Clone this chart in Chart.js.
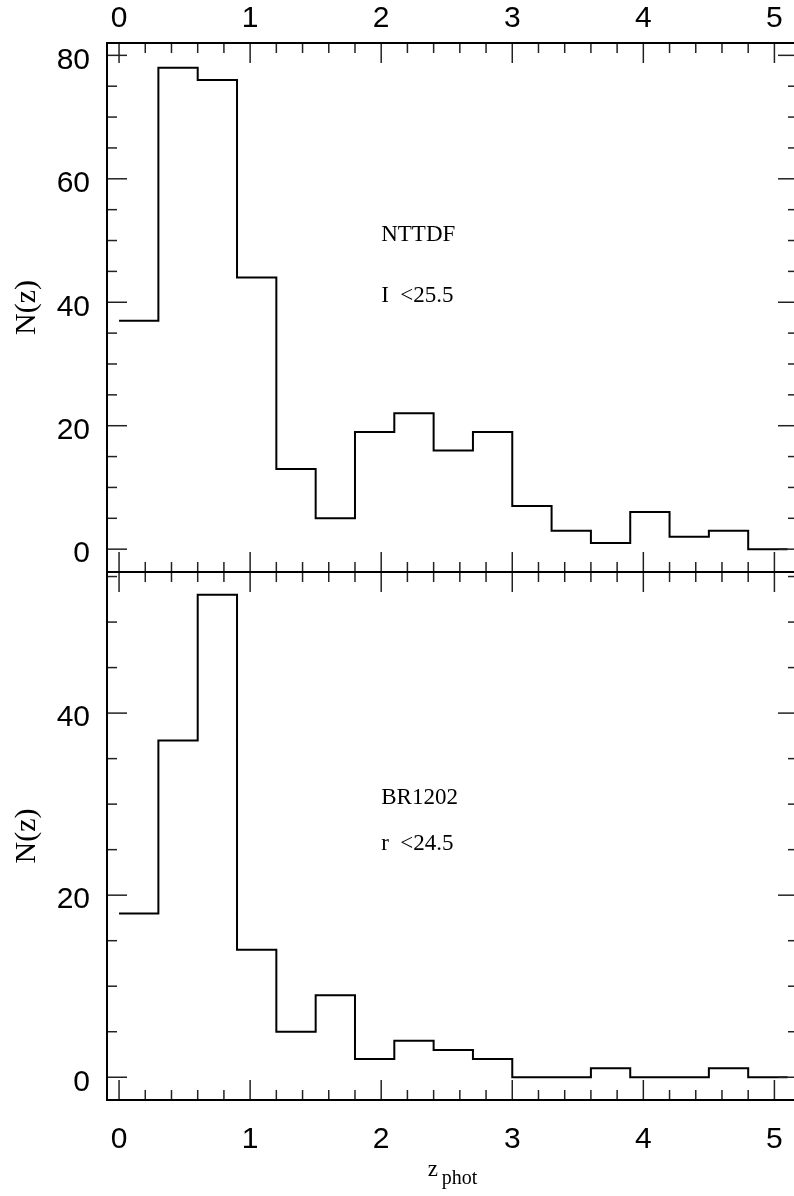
<!DOCTYPE html>
<html><head><meta charset="utf-8">
<script src="https://cdn.jsdelivr.net/npm/chart.js@4.4.1/dist/chart.umd.min.js"></script>
<style>
html,body{margin:0;padding:0;background:#fff;overflow:hidden;}
#wrap{position:relative;width:794px;height:1196px;overflow:hidden;background:#fff;}
canvas{position:absolute;left:0;top:0;}
</style></head><body>
<div id="wrap"><canvas id="cTop" width="812" height="1196"></canvas><canvas id="cBot" width="812" height="1196"></canvas></div>
<script>
// ---- data ----
const binEdges = [0, 0.3, 0.6, 0.9, 1.2, 1.5, 1.8, 2.1, 2.4, 2.7, 3.0, 3.3, 3.6, 3.9, 4.2, 4.5, 4.8, 5.1];
const nzNTTDF  = [37, 78, 76, 44, 13, 5, 19, 22, 16, 19, 7, 3, 1, 6, 2, 3, 0];
const nzBR1202 = [18, 37, 53, 14, 5, 9, 2, 4, 3, 2, 0, 0, 1, 0, 0, 1, 0];
const xTickLabels = [0, 1, 2, 3, 4, 5];
const yTickLabelsTop = [0, 20, 40, 60, 80];
const yTickLabelsBottom = [0, 20, 40];
const xRange = [-0.092, 5.18];
const yRangeTop = [-3.7, 82];
const yRangeBottom = [-2.5, 55.5];
const notesTop = [{text: 'NTTDF', x: 2.0, y: 50}, {text: 'I  <25.5', x: 2.0, y: 40}];
const notesBottom = [{text: 'BR1202', x: 2.0, y: 30}, {text: 'r  <24.5', x: 2.0, y: 25}];

function stepPoints(vals) {
  const pts = vals.map((v, i) => ({x: binEdges[i], y: v}));
  pts.push({x: binEdges[vals.length], y: vals[vals.length - 1]});
  return pts;
}

const frameTicks = {
  id: 'frameTicks',
  afterDatasetsDraw(chart, args, opts) {
    const {ctx, chartArea: a, scales: {x, y}} = chart;
    ctx.save();
    const seg = (x1, y1, x2, y2) => { ctx.beginPath(); ctx.moveTo(x1, y1); ctx.lineTo(x2, y2); ctx.stroke(); };
    ctx.strokeStyle = '#222'; ctx.lineWidth = 1.5;
    for (let k = Math.ceil(x.min / 0.2 - 1e-6); k * 0.2 <= x.max + 1e-6; k++) {
      const v = k * 0.2;
      const major = Math.abs(v - Math.round(v)) < 1e-6;
      const L = major ? 20 : 10;
      const px = x.getPixelForValue(v);
      seg(px, a.top, px, a.top + L);
      seg(px, a.bottom, px, a.bottom - L);
    }
    for (let k = Math.ceil(y.min / 5 - 1e-6); k * 5 <= y.max + 1e-6; k++) {
      const v = k * 5;
      const major = v % 20 === 0;
      const L = major ? 20 : 10;
      const py = y.getPixelForValue(v);
      seg(a.left, py, a.left + L, py);
      seg(a.right, py, a.right - L, py);
    }
    ctx.strokeStyle = '#000'; ctx.lineWidth = 2;
    ctx.strokeRect(a.left, a.top, a.right - a.left, a.bottom - a.top);
    // notes
    ctx.fillStyle = '#000';
    ctx.font = '23px "Liberation Serif", "Times New Roman", serif';
    ctx.textAlign = 'left'; ctx.textBaseline = 'alphabetic';
    (opts.notes || []).forEach(n => ctx.fillText(n.text, x.getPixelForValue(n.x), y.getPixelForValue(n.y)));
    if (opts.xTitle) {
      const cx = x.getPixelForValue(2.4);
      ctx.font = '23px "Liberation Serif", "Times New Roman", serif';
      ctx.fillText('z', cx - 6, a.bottom + 76);
      ctx.font = '20px "Liberation Serif", "Times New Roman", serif';
      ctx.fillText('phot', cx + 8, a.bottom + 84);
    }
    ctx.restore();
  }
};

const tickFont = {family: '"Liberation Sans", Arial, sans-serif', size: 30};

function makePanel(id, vals, yRange, yTicks, isTop, notes) {
  return new Chart(document.getElementById(id), {
    type: 'line',
    data: {datasets: [{data: stepPoints(vals), stepped: true, borderColor: '#000', borderWidth: 2, pointRadius: 0, fill: false}]},
    options: {
      responsive: false, animation: false, devicePixelRatio: 1,
      layout: {padding: isTop ? {left: 0, top: 0, right: 14, bottom: 624} : {left: 0, top: 572, right: 14, bottom: 0}},
      plugins: {legend: {display: false}, tooltip: {enabled: false}, frameTicks: {notes: notes, xTitle: !isTop}},
      scales: {
        x: {
          type: 'linear', position: isTop ? 'top' : 'bottom', min: xRange[0], max: xRange[1],
          afterBuildTicks: s => { s.ticks = xTickLabels.map(v => ({value: v})); },
          afterFit: s => { s.height = isTop ? 43 : 96; },
          grid: {display: false, drawTicks: false}, border: {display: false},
          ticks: {font: tickFont, color: '#000', padding: isTop ? 6 : 22, maxRotation: 0, minRotation: 0, autoSkip: false, callback: v => String(v)}
        },
        y: {
          type: 'linear', min: yRange[0], max: yRange[1],
          afterBuildTicks: s => { s.ticks = yTicks.map(v => ({value: v})); },
          afterFit: s => { s.width = 107; },
          grid: {display: false, drawTicks: false}, border: {display: false},
          ticks: {font: tickFont, color: '#000', padding: 17, labelOffset: 5, autoSkip: false, callback: v => String(v)},
          title: {display: true, text: 'N(z)', color: '#000', font: {family: '"Liberation Serif", "Times New Roman", serif', size: 30}, padding: {top: 9, bottom: 0}}
        }
      }
    },
    plugins: [frameTicks]
  });
}

makePanel('cTop', nzNTTDF, yRangeTop, yTickLabelsTop, true, notesTop);
makePanel('cBot', nzBR1202, yRangeBottom, yTickLabelsBottom, false, notesBottom);
</script>
</body></html>
